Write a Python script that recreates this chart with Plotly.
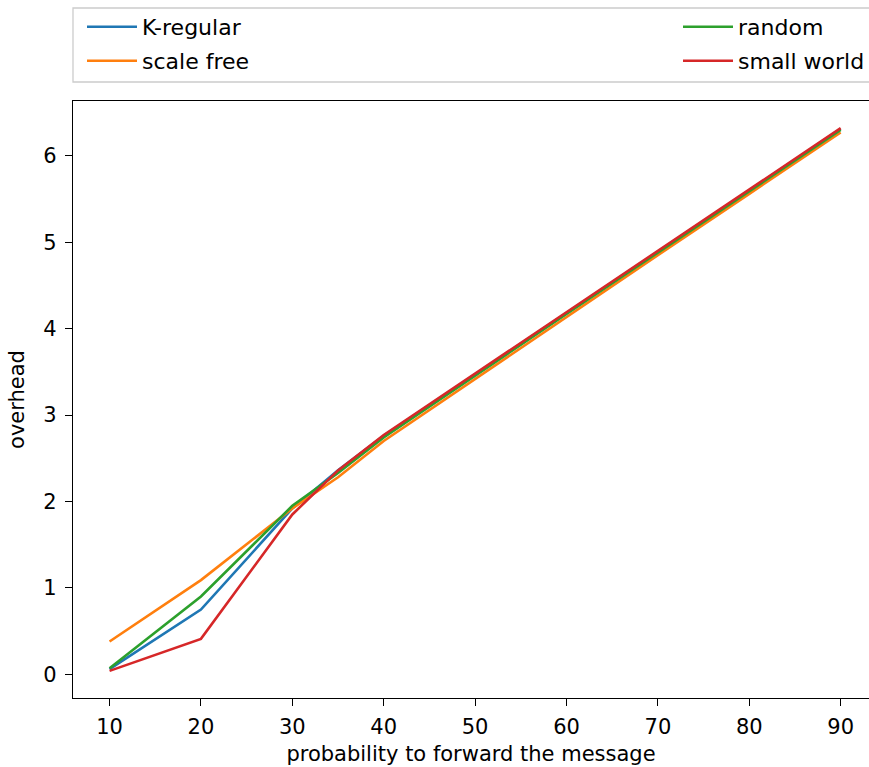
import plotly.graph_objects as go

x_prob = [10, 20, 30, 35, 40, 50, 60, 70, 80, 90]
k_regular = [0.06, 0.75, 1.92, 2.36, 2.76, 3.47, 4.18, 4.89, 5.60, 6.31]
scale_free = [0.38, 1.09, 1.92, 2.28, 2.70, 3.42, 4.13, 4.85, 5.56, 6.27]
random_net = [0.07, 0.90, 1.95, 2.33, 2.74, 3.46, 4.17, 4.88, 5.59, 6.30]
small_world = [0.04, 0.41, 1.85, 2.36, 2.77, 3.48, 4.19, 4.90, 5.61, 6.32]

x_ticks = [10, 20, 30, 40, 50, 60, 70, 80, 90]
y_ticks = [0, 1, 2, 3, 4, 5, 6]

L, R, T, B = 73, 0, 101, 69
W, Hfig = 869, 767
PW = W - L - R
PH = Hfig - T - B

def px_y(p):
    return 1 + (T - p) / PH

def cx(p):
    return p / W

def cy(p):
    return 1 - p / Hfig

# legend placement (pixels): (x of legend box left, y of row center)
series = [
    ("K-regular", k_regular, "#1f77b4", "legend2", 82, 27),
    ("scale free", scale_free, "#ff7f0e", "legend3", 82, 61),
    ("random", random_net, "#2ca02c", "legend4", 678, 27),
    ("small world", small_world, "#d62728", "legend5", 678, 61),
]

fig = go.Figure()
legends = {}
leg_font = dict(family="DejaVu Sans", size=22, color="black")
for name, vals, color, lg, lx, ly in series:
    fig.add_trace(go.Scatter(x=x_prob, y=vals, mode="lines", name=name,
                             showlegend=True,
                             line=dict(color=color, width=2.6), legend=lg))
    legends[lg] = dict(orientation="h", xanchor="left", yanchor="middle",
                       xref="container", yref="container",
                       x=cx(lx), y=cy(ly), font=leg_font,
                       bgcolor="rgba(0,0,0,0)", borderwidth=0, itemwidth=50)

tick_font = dict(family="DejaVu Sans", size=21, color="black")
title_font = dict(family="DejaVu Sans", size=21, color="black")

fig.update_layout(
    width=W, height=Hfig,
    margin=dict(l=L, r=R, t=T, b=B, autoexpand=False),
    plot_bgcolor="white", paper_bgcolor="white",
    showlegend=True,
    font=tick_font,
    xaxis=dict(range=[6, 93.1], tickvals=x_ticks, ticks="outside", ticklen=7,
               tickwidth=1.3, tickcolor="black", showline=True, linecolor="black",
               linewidth=1.3, mirror=True, showgrid=False, zeroline=False,
               title=dict(text="probability to forward the message", font=title_font, standoff=7),
               tickfont=tick_font, ticklabelstandoff=3),
    yaxis=dict(range=[-0.274, 6.634], tickvals=y_ticks, ticks="outside", ticklen=7,
               tickwidth=1.3, tickcolor="black", showline=True, linecolor="black",
               linewidth=1.3, mirror=False, showgrid=False, zeroline=False,
               title=dict(text="overhead", font=title_font, standoff=12),
               tickfont=tick_font, ticklabelstandoff=4),
    shapes=[dict(type="rect", xref="paper", yref="paper", x0=0, x1=1.02,
                 y0=px_y(82), y1=px_y(8), line=dict(color="#cccccc", width=1.3),
                 fillcolor="rgba(0,0,0,0)", layer="above")],
    **legends,
)

fig.write_html("out.html")
